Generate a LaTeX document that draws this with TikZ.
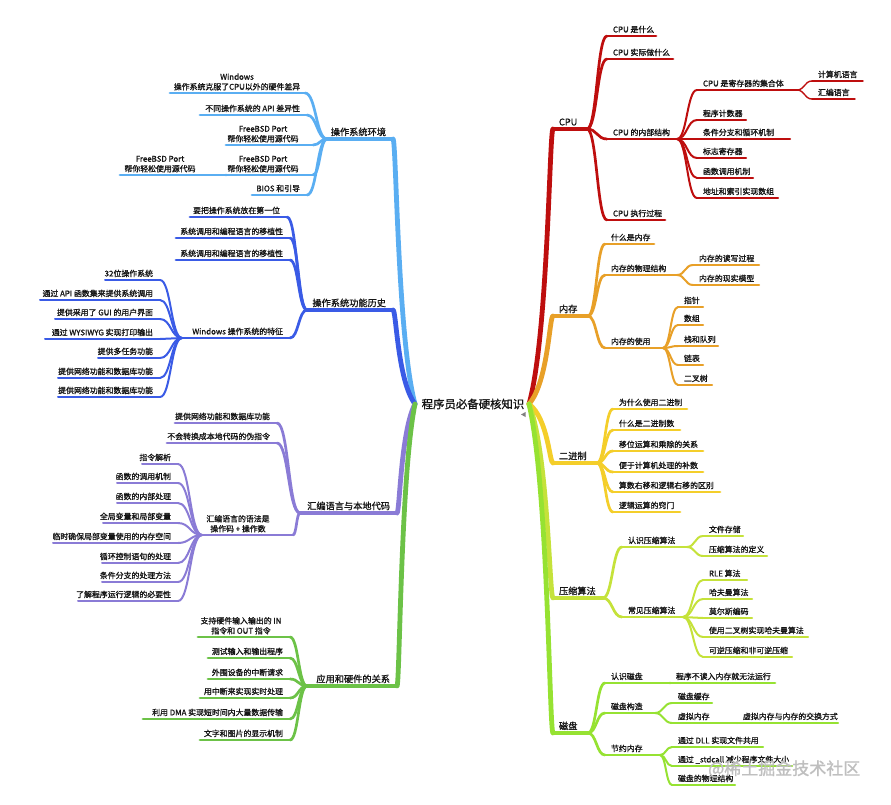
\documentclass[tikz,border=0pt]{standalone}
\usepackage{fontspec}
\setmainfont{Noto Sans CJK SC}[FakeBold=1.1]
\usetikzlibrary{calc}
\definecolor{cpuc}{RGB}{190,14,14}
\definecolor{memc}{RGB}{232,160,40}
\definecolor{binc}{RGB}{244,206,42}
\definecolor{zipc}{RGB}{197,226,58}
\definecolor{diskc}{RGB}{150,226,50}
\definecolor{envc}{RGB}{90,174,242}
\definecolor{hisc}{RGB}{58,91,230}
\definecolor{asmc}{RGB}{138,123,214}
\definecolor{appc}{RGB}{108,194,71}
\tikzset{
  lbl/.style={inner sep=0pt, outer sep=0pt, text=black!92, font=\fontsize{7.9}{10}\selectfont},
  lbltop/.style={inner sep=0pt, outer sep=0pt, text=black!92, font=\fontsize{9.2}{11}\selectfont},
  rootlbl/.style={inner sep=0pt, outer sep=0pt, text=black!92, font=\fontsize{11.4}{13}\selectfont},
  w0/.style={line width=4.8pt},
  w1/.style={line width=3.9pt},
  w2/.style={line width=2.7pt},
  w3/.style={line width=2pt},
  w4/.style={line width=1.4pt},
}
\newcommand\RN[7][lbl]{%
  \coordinate (#2-l) at (#4,#6);
  \coordinate (#2-r) at (#5,#6);
  \draw[#3] (#2-l) -- (#2-r);
  \node[#1,anchor=base west] (#2) at (#4+6,#6-3.6) {#7};}
\newcommand\LN[7][lbl]{%
  \coordinate (#2-l) at (#4,#6);
  \coordinate (#2-r) at (#5,#6);
  \draw[#3] (#2-l) -- (#2-r);
  \node[#1,anchor=base east] (#2) at (#5-7,#6-3.6) {#7};}
\newcommand\MN[7]{%
  \coordinate (#1-l) at (#3,#5);
  \coordinate (#1-r) at (#4,#5);
  \draw[#2] (#1-l) -- (#1-r);
  \node[lbl,align=center,anchor=south] (#1) at (#6,#5-2.6) {#7};}
\newcommand\conn[3][]{%
  \draw[#1] let \p1=(#2), \p2=(#3), \n1={0.5*(\x1+\x2)} in
    (\p1) .. controls (\n1,\y1) and (\n1,\y2) .. (\p2);}
\newcommand\trunk[3][]{%
  \draw[#1] let \p1=(#2), \p2=(#3), \n1={\x1+0.8*(\x2-\x1)}, \n2={\y1+0.25*(\y2-\y1)}, \n3={\x1+0.85*(\x2-\x1)} in
    (\p1) .. controls (\n1,\n2) and (\n3,\y2) .. (\p2);}
\begin{document}
\begin{tikzpicture}[x=1pt,y=-1pt,line cap=round]
\useasboundingbox (0,0) rectangle (891,804);
\fill[white] (0,0) rectangle (891,804);
% root
\coordinate (rootR) at (529,404);
\coordinate (rootL) at (415,404);
% ---------------- right side ----------------
% CPU
\RN[lbltop]{cpu}{cpuc,w1}{553}{587}{129}{CPU}
\RN{cpu1}{cpuc,w2}{607}{656}{36}{CPU 是什么}
\RN{cpu2}{cpuc,w2}{607}{673}{59}{CPU 实际做什么}
\RN{cpu3}{cpuc,w2}{607}{677}{139}{CPU 的内部结构}
\RN{cpu4}{cpuc,w2}{607}{665}{220}{CPU 执行过程}
\RN{cpu31}{cpuc,w3}{697}{797}{90}{CPU 是寄存器的集合体}
\RN{cpu32}{cpuc,w3}{697}{746}{120}{程序计数器}
\RN{cpu33}{cpuc,w3}{697}{790}{139}{条件分支和循环机制}
\RN{cpu34}{cpuc,w3}{697}{746}{158}{标志寄存器}
\RN{cpu35}{cpuc,w3}{697}{753}{178}{函数调用机制}
\RN{cpu36}{cpuc,w3}{697}{778}{198}{地址和索引实现数组}
\RN{cpu311}{cpuc,w4}{812}{863}{81}{计算机语言}
\RN{cpu312}{cpuc,w4}{812}{855}{99}{汇编语言}
\trunk[cpuc,w0]{rootR}{cpu-l}
\foreach \c in {cpu1,cpu2,cpu3,cpu4}{\conn[cpuc,w2]{cpu-r}{\c-l}}
\foreach \c in {cpu31,cpu32,cpu33,cpu34,cpu35,cpu36}{\conn[cpuc,w3]{cpu3-r}{\c-l}}
\foreach \c in {cpu311,cpu312}{\conn[cpuc,w4]{cpu31-r}{\c-l}}
% memory
\RN[lbltop]{mem}{memc,w1}{553}{588}{316}{内存}
\RN{mem1}{memc,w2}{605}{654}{244}{什么是内存}
\RN{mem2}{memc,w2}{605}{677}{275}{内存的物理结构}
\RN{mem3}{memc,w2}{605}{663}{348}{内存的使用}
\RN{mem21}{memc,w3}{693}{759}{265}{内存的读写过程}
\RN{mem22}{memc,w3}{693}{759}{285}{内存的现实模型}
\RN{mem31}{memc,w3}{678}{703}{307}{指针}
\RN{mem32}{memc,w3}{678}{703}{325}{数组}
\RN{mem33}{memc,w3}{678}{718}{346}{栈和队列}
\RN{mem34}{memc,w3}{678}{703}{365}{链表}
\RN{mem35}{memc,w3}{678}{712}{385}{二叉树}
\trunk[memc,w0]{rootR}{mem-l}
\foreach \c in {mem1,mem2,mem3}{\conn[memc,w2]{mem-r}{\c-l}}
\foreach \c in {mem21,mem22}{\conn[memc,w3]{mem2-r}{\c-l}}
\foreach \c in {mem31,mem32,mem33,mem34,mem35}{\conn[memc,w3]{mem3-r}{\c-l}}
% binary
\RN[lbltop]{bin}{binc,w1}{553}{597}{463}{二进制}
\RN{bin1}{binc,w2}{613}{687}{409}{为什么使用二进制}
\RN{bin2}{binc,w2}{613}{680}{430}{什么是二进制数}
\RN{bin3}{binc,w2}{613}{703}{451}{移位运算和乘除的关系}
\RN{bin4}{binc,w2}{613}{703}{472}{便于计算机处理的补数}
\RN{bin5}{binc,w2}{613}{720}{492}{算数右移和逻辑右移的区别}
\RN{bin6}{binc,w2}{613}{680}{512}{逻辑运算的窍门}
\trunk[binc,w0]{rootR}{bin-l}
\foreach \c in {bin1,bin2,bin3,bin4,bin5,bin6}{\conn[binc,w2]{bin-r}{\c-l}}
% compression
\RN[lbltop]{zip}{zipc,w1}{553}{603}{598}{压缩算法}
\RN{zip1}{zipc,w2}{622}{687}{547}{认识压缩算法}
\RN{zip2}{zipc,w2}{622}{683}{617}{常见压缩算法}
\RN{zip11}{zipc,w3}{703}{743}{536}{文件存储}
\RN{zip12}{zipc,w3}{703}{767}{556}{压缩算法的定义}
\RN{zip21}{zipc,w3}{703}{747}{580}{RLE 算法}
\RN{zip22}{zipc,w3}{703}{752}{599}{哈夫曼算法}
\RN{zip23}{zipc,w3}{703}{752}{618}{莫尔斯编码}
\RN{zip24}{zipc,w3}{703}{808}{637}{使用二叉树实现哈夫曼算法}
\RN{zip25}{zipc,w3}{703}{792}{657}{可逆压缩和非可逆压缩}
\trunk[zipc,w0]{rootR}{zip-l}
\foreach \c in {zip1,zip2}{\conn[zipc,w2]{zip-r}{\c-l}}
\foreach \c in {zip11,zip12}{\conn[zipc,w3]{zip1-r}{\c-l}}
\foreach \c in {zip21,zip22,zip23,zip24,zip25}{\conn[zipc,w3]{zip2-r}{\c-l}}
% disk
\RN[lbltop]{disk}{diskc,w1}{553}{588}{733}{磁盘}
\RN{disk1}{diskc,w2}{605}{670}{683}{认识磁盘}
\RN{disk11}{diskc,w2}{670}{775}{683}{程序不读入内存就无法运行}
\RN{disk2}{diskc,w2}{605}{655}{713}{磁盘构造}
\RN{disk21}{diskc,w3}{672}{712}{703}{磁盘缓存}
\RN{disk22}{diskc,w3}{672}{737}{723}{虚拟内存}
\RN{disk221}{diskc,w3}{737}{838}{723}{虚拟内存与内存的交换方式}
\RN{disk3}{diskc,w2}{605}{660}{755}{节约内存}
\RN{disk31}{diskc,w3}{672}{763}{747}{通过 DLL 实现文件共用}
\RN{disk32}{diskc,w3}{672}{792}{766}{通过 \_stdcall 减少程序文件大小}
\RN{disk33}{diskc,w3}{672}{735}{785}{磁盘的物理结构}
\trunk[diskc,w0]{rootR}{disk-l}
\foreach \c in {disk1,disk2,disk3}{\conn[diskc,w2]{disk-r}{\c-l}}
\conn[diskc,w2]{disk1-r}{disk11-l}
\foreach \c in {disk21,disk22}{\conn[diskc,w3]{disk2-r}{\c-l}}
\conn[diskc,w3]{disk22-r}{disk221-l}
\foreach \c in {disk31,disk32,disk33}{\conn[diskc,w3]{disk3-r}{\c-l}}
% ---------------- left side ----------------
% OS environment
\LN[lbltop]{env}{envc,w1}{327}{393}{139}{操作系统环境}
\MN{env1}{envc,w2}{170}{305}{93}{237}{Windows\\操作系统克服了CPU以外的硬件差异}
\LN{env2}{envc,w2}{200}{307}{115}{不同操作系统的 API 差异性}
\MN{env3}{envc,w2}{226}{313}{145}{263}{FreeBSD Port\\帮你轻松使用源代码}
\MN{env4}{envc,w2}{226}{313}{175}{263}{FreeBSD Port\\帮你轻松使用源代码}
\MN{env41}{envc,w2}{120}{226}{175}{160}{FreeBSD Port\\帮你轻松使用源代码}
\LN{env5}{envc,w2}{252}{307}{195}{BIOS 和引导}
\trunk[envc,w0]{rootL}{env-r}
\foreach \c in {env1,env2,env3,env4,env5}{\conn[envc,w2]{env-l}{\c-r}}
\conn[envc,w2]{env4-l}{env41-r}
% OS history
\LN[lbltop]{his}{hisc,w1}{307}{393}{310}{操作系统功能历史}
\LN{his1}{hisc,w2}{190}{287}{217}{要把操作系统放在第一位}
\LN{his2}{hisc,w2}{176}{290}{238}{系统调用和编程语言的移植性}
\LN{his3}{hisc,w2}{176}{290}{260}{系统调用和编程语言的移植性}
\LN{his4}{hisc,w2}{182}{290}{338}{Windows 操作系统的特征}
\LN{his41}{hisc,w3}{105}{160}{280}{32位操作系统}
\LN{his42}{hisc,w3}{40}{160}{300}{通过 API 函数集来提供系统调用}
\LN{his43}{hisc,w3}{55}{160}{319}{提供采用了 GUI 的用户界面}
\LN{his44}{hisc,w3}{45}{160}{339}{通过 WYSIWYG 实现打印输出}
\LN{his45}{hisc,w3}{98}{160}{358}{提供多任务功能}
\LN{his46}{hisc,w3}{58}{160}{378}{提供网络功能和数据库功能}
\LN{his47}{hisc,w3}{58}{160}{397}{提供网络功能和数据库功能}
\trunk[hisc,w0]{rootL}{his-r}
\foreach \c in {his1,his2,his3,his4}{\conn[hisc,w2]{his-l}{\c-r}}
\foreach \c in {his41,his42,his43,his44,his45,his46,his47}{\conn[hisc,w3]{his4-l}{\c-r}}
% assembly
\LN[lbltop]{asm}{asmc,w1}{300}{397}{513}{汇编语言与本地代码}
\LN{asm1}{asmc,w2}{175}{277}{423}{提供网络功能和数据库功能}
\LN{asm2}{asmc,w2}{167}{277}{443}{不会转换成本地代码的伪指令}
\MN{asm3}{asmc,w2}{202}{293}{535}{238}{汇编语言的语法是\\操作码 + 操作数}
\LN{asm31}{asmc,w3}{142}{178}{464}{指令解析}
\LN{asm32}{asmc,w3}{117}{178}{483}{函数的调用机制}
\LN{asm33}{asmc,w3}{117}{178}{503}{函数的内部处理}
\LN{asm34}{asmc,w3}{103}{178}{523}{全局变量和局部变量}
\LN{asm35}{asmc,w3}{53}{178}{543}{临时确保局部变量使用的内存空间}
\LN{asm36}{asmc,w3}{102}{178}{563}{循环控制语句的处理}
\LN{asm37}{asmc,w3}{102}{178}{582}{条件分支的处理方法}
\LN{asm38}{asmc,w3}{78}{178}{601}{了解程序运行逻辑的必要性}
\trunk[asmc,w0]{rootL}{asm-r}
\foreach \c in {asm1,asm2,asm3}{\conn[asmc,w2]{asm-l}{\c-r}}
\foreach \c in {asm31,asm32,asm33,asm34,asm35,asm36,asm37,asm38}{\conn[asmc,w3]{asm3-l}{\c-r}}
% application & hardware
\LN[lbltop]{app}{appc,w1}{307}{397}{686}{应用和硬件的关系}
\MN{app1}{appc,w2}{198}{290}{637}{241}{支持硬件输入输出的 IN\\指令和 OUT 指令}
\LN{app2}{appc,w2}{208}{290}{658}{测试输入和输出程序}
\LN{app3}{appc,w2}{208}{290}{679}{外围设备的中断请求}
\LN{app4}{appc,w2}{200}{290}{698}{用中断来实现实时处理}
\LN{app5}{appc,w2}{143}{290}{719}{利用 DMA 实现短时间内大量数据传输}
\LN{app6}{appc,w2}{200}{290}{740}{文字和图片的显示机制}
\trunk[appc,w0]{rootL}{app-r}
\foreach \c in {app1,app2,app3,app4,app5,app6}{\conn[appc,w2]{app-l}{\c-r}}
% root label on top
\node[rootlbl] (root) at (473,404) {程序员必备硬核知识};
\fill[gray] (521,414.5) -- (525.5,412) -- (525.5,417) -- cycle;
% watermark
\node[inner sep=0pt, anchor=west, text=gray!50, font=\fontsize{17}{20}\selectfont] (wm) at (708,769) {@稀土掘金技术社区};
\end{tikzpicture}
\end{document}
